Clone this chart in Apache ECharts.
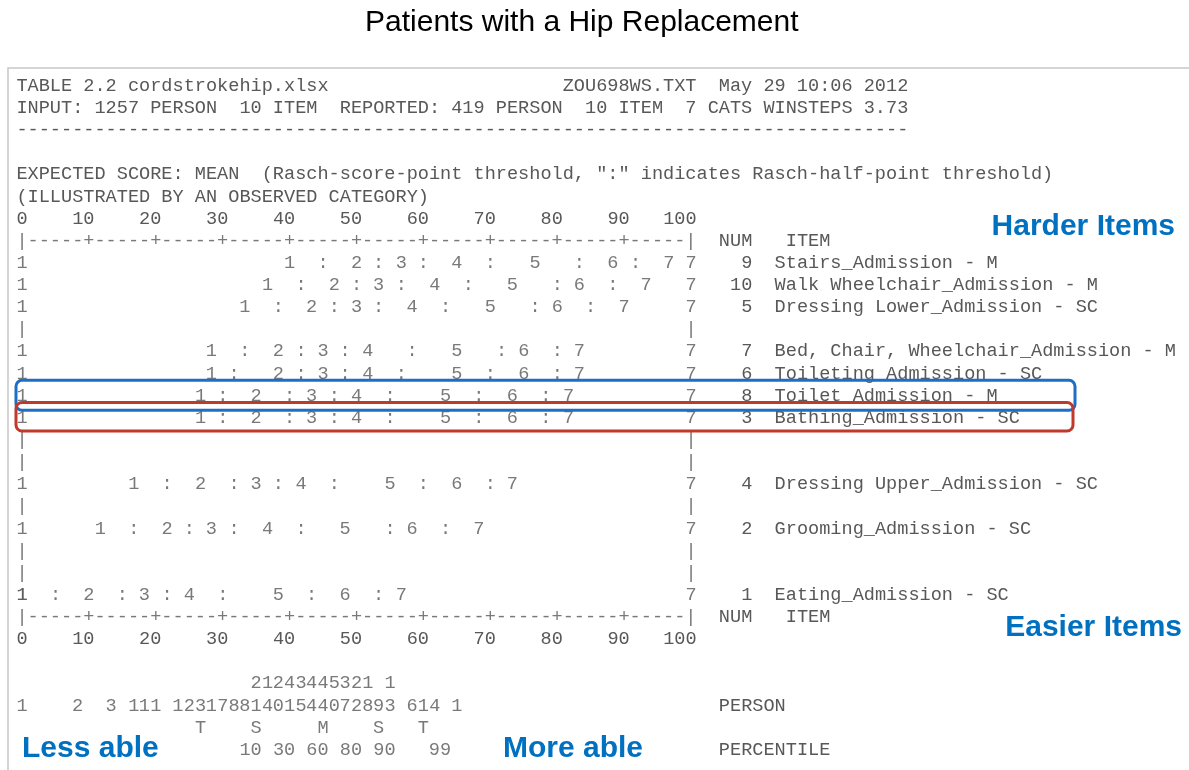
<!DOCTYPE html>
<html>
<head>
<meta charset="utf-8">
<title>Patients with a Hip Replacement</title>
<script src="https://cdn.jsdelivr.net/npm/echarts@6/dist/echarts.min.js"></script>
<style>
  html, body { margin: 0; padding: 0; background: #fff; }
  #chart { width: 1189px; height: 770px; }
</style>
</head>
<body>
<div id="chart"></div>
<script>
// Winsteps Table 2.2 - expected score map (hip replacement patients)

// items, hardest at the top
const itemNum = [9, 10, 5, 7, 6, 8, 3, 4, 2, 1];
const itemName = [
  'Stairs_Admission - M',
  'Walk Wheelchair_Admission - M',
  'Dressing Lower_Admission - SC',
  'Bed, Chair, Wheelchair_Admission - M',
  'Toileting_Admission - SC',
  'Toilet_Admission - M',
  'Bathing_Admission - SC',
  'Dressing Upper_Admission - SC',
  'Grooming_Admission - SC',
  'Eating_Admission - SC'
];
// map line each item is printed on (the other lines only show "|")
const itemLine = [0, 1, 2, 4, 5, 6, 7, 10, 12, 15];
const mapLines = 16;

// expected score 1..7 (Rasch-score-point thresholds), 0-100 scale
const scorePoints = [
  [40, 50, 56.7, 65, 76.7, 88.3, 96.7],
  [36.7, 46.7, 53.3, 61.7, 73.3, 83.3, 93.3],
  [33.3, 43.3, 50, 58.3, 70, 80, 90],
  [28.3, 38.3, 45, 51.7, 65, 75, 83.3],
  [28.3, 38.3, 45, 51.7, 65, 75, 83.3],
  [26.7, 35, 43.3, 50, 63.3, 73.3, 81.7],
  [26.7, 35, 43.3, 50, 63.3, 73.3, 81.7],
  [16.7, 26.7, 35, 41.7, 55, 65, 73.3],
  [11.7, 21.7, 28.3, 36.7, 48.3, 58.3, 68.3],
  [0, 10, 18.3, 25, 38.3, 48.3, 56.7]
];
// ":" Rasch-half-point thresholds
const halfPoints = [
  [45, 53.3, 60, 70, 83.3, 91.7],
  [41.7, 50, 56.7, 66.7, 80, 88.3],
  [38.3, 46.7, 53.3, 63.3, 76.7, 85],
  [33.3, 41.7, 48.3, 58.3, 71.7, 80],
  [31.7, 41.7, 48.3, 56.7, 70, 80],
  [30, 40, 46.7, 55, 68.3, 78.3],
  [30, 40, 46.7, 55, 68.3, 78.3],
  [21.7, 31.7, 38.3, 46.7, 60, 70],
  [16.7, 25, 31.7, 41.7, 55, 63.3],
  [5, 15, 21.7, 30, 43.3, 53.3]
];
const catLow = '1', catHigh = '7';
const blueItem = 8, redItem = 3;

// person distribution under the map
const personPos = [0, 8.3, 13.3, 16.7, 18.3, 20, 23.3, 25, 26.7, 28.3, 30, 31.7, 33.3, 35, 36.7,
  38.3, 40, 41.7, 43.3, 45, 46.7, 48.3, 50, 51.7, 53.3, 55, 58.3, 60, 61.7, 65];
const personCount = [1, 2, 3, 1, 1, 1, 1, 2, 3, 1, 7, 8, 8, 21, 14,
  20, 41, 35, 44, 44, 50, 37, 22, 18, 9, 13, 6, 1, 4, 1];
const statMark = ['T', 'S', 'M', 'S', 'T'];
const statPos = [26.7, 35, 45, 53.3, 60];
const pctLabel = ['10', '30', '60', '80', '90', '99'];
const pctPos = [35, 40, 45, 50, 55, 63.3];

const headerLines = [
  'TABLE 2.2 cordstrokehip.xlsx                     ZOU698WS.TXT  May 29 10:06 2012',
  'INPUT: 1257 PERSON  10 ITEM  REPORTED: 419 PERSON  10 ITEM  7 CATS WINSTEPS 3.73',
  '-'.repeat(80),
  '',
  'EXPECTED SCORE: MEAN  (Rasch-score-point threshold, ":" indicates Rasch-half-point threshold)',
  '(ILLUSTRATED BY AN OBSERVED CATEGORY)'
];

// text grid of the printout
const X0 = 22, X100 = 691;
const CH = (X100 - X0) / 60;
const FS = CH / 0.6;
const LH = 22.13;
const lineY = k => 86 + k * LH;
const MONO = '"Liberation Mono", "Courier New", monospace';
const INK = '#585858';
const BLUE = '#0070c0';

const ruler = Array.from({ length: 61 }, (_, c) => (c % 6 ? '-' : (c % 60 ? '+' : '|'))).join('');

const rightLabels = ['  NUM   ITEM'];
const mapData = [];
for (let l = 0; l < mapLines; l++) {
  const i = itemLine.indexOf(l);
  const r = l + 1;
  rightLabels.push(i < 0 ? '' : String(itemNum[i]).padStart(5) + '  ' + itemName[i]);
  mapData.push({ name: i < 0 ? '|' : catLow, value: [0, r] });
  mapData.push({ name: i < 0 ? '|' : catHigh, value: [100, r] });
  if (i < 0) continue;
  scorePoints[i].forEach((v, k) => mapData.push({ name: String(k + 1), value: [v, r] }));
  halfPoints[i].forEach(v => mapData.push({ name: ':', value: [v, r] }));
}
rightLabels.push('  NUM   ITEM');

const personData = [];
personPos.forEach((v, i) => {
  const n = personCount[i];
  personData.push({ name: String(n % 10), value: [v, 1] });
  if (n >= 10) personData.push({ name: String(Math.floor(n / 10)), value: [v, 0] });
});
statPos.forEach((v, i) => personData.push({ name: statMark[i], value: [v, 2] }));
const pctData = pctPos.map((v, i) => ({ name: pctLabel[i], value: [v, 3] }));

const monoText = { fontFamily: MONO, fontSize: FS, color: INK };
const charLabel = (extra) => Object.assign({
  show: true, position: 'inside', formatter: '{b}', align: 'center', verticalAlign: 'middle'
}, monoText, extra || {});
const hidden = { show: false };

const scaleAxis = (grid, pos, show) => ({
  type: 'value', gridIndex: grid, position: pos, min: 0, max: 100, interval: 10,
  axisLine: hidden, axisTick: hidden, splitLine: hidden,
  axisLabel: show ? Object.assign({
    margin: LH, verticalAlign: 'middle',
    formatter: v => String(v) + ' '.repeat(String(v).length - 1)
  }, monoText) : hidden
});

const chart = echarts.init(document.getElementById('chart'));
chart.setOption({
  animation: false,
  backgroundColor: '#fff',
  title: {
    text: 'Patients with a Hip Replacement',
    left: 365, top: 8, padding: 0,
    textStyle: { fontFamily: '"Liberation Sans", Arial, sans-serif', fontSize: 30, fontWeight: 'normal', color: '#000' }
  },
  grid: [
    { left: X0, right: 1189 - X100, top: lineY(7), bottom: 770 - lineY(24), outerBoundsMode: 'none' },
    { left: X0, right: 1189 - X100, top: lineY(27), bottom: 770 - lineY(30), outerBoundsMode: 'none' }
  ],
  xAxis: [
    scaleAxis(0, 'top', true),
    scaleAxis(0, 'bottom', true),
    scaleAxis(1, 'bottom', false)
  ],
  yAxis: [
    {
      type: 'category', gridIndex: 0, position: 'right', inverse: true, boundaryGap: false,
      data: rightLabels.map((_, i) => 'r' + i),
      axisLine: hidden, axisTick: hidden, splitLine: hidden,
      axisLabel: Object.assign({ interval: 0, margin: CH / 2, align: 'left', formatter: (v, i) => rightLabels[i] }, monoText)
    },
    {
      type: 'category', gridIndex: 1, position: 'right', inverse: true, boundaryGap: false,
      data: ['tens', 'units', 'stats', 'pct'],
      axisLine: hidden, axisTick: hidden, splitLine: hidden,
      axisLabel: Object.assign({ interval: 0, margin: CH / 2, align: 'left',
        formatter: (v, i) => ['', '  PERSON', '', '  PERCENTILE'][i] }, monoText)
    }
  ],
  series: [
    {
      name: 'thresholds', type: 'scatter', xAxisIndex: 0, yAxisIndex: 0, silent: true,
      symbolSize: 1, itemStyle: { color: 'rgba(0,0,0,0)' },
      label: charLabel(), data: mapData
    },
    {
      name: 'ruler', type: 'scatter', xAxisIndex: 0, yAxisIndex: 0, silent: true,
      symbolSize: 1, itemStyle: { color: 'rgba(0,0,0,0)' },
      label: charLabel({ align: 'left', offset: [-CH / 2, 0] }),
      data: [{ name: ruler, value: [0, 0] }, { name: ruler, value: [0, mapLines + 1] }]
    },
    {
      name: 'persons', type: 'scatter', xAxisIndex: 2, yAxisIndex: 1, silent: true,
      symbolSize: 1, itemStyle: { color: 'rgba(0,0,0,0)' },
      label: charLabel(), data: personData
    },
    {
      name: 'percentile', type: 'scatter', xAxisIndex: 2, yAxisIndex: 1, silent: true,
      symbolSize: 1, itemStyle: { color: 'rgba(0,0,0,0)' },
      label: charLabel({ align: 'right', offset: [CH / 2, 0] }), data: pctData
    }
  ]
});

// annotations placed against the rows they mark
const rowY = r => chart.convertToPixel({ gridIndex: 0 }, [0, r])[1];
const boxFor = (num, color, dy, h, x2) => ({
  type: 'rect', z: 100, silent: true,
  shape: { x: 16, y: rowY(itemLine[itemNum.indexOf(num)] + 1) + dy, width: x2 - 16, height: h, r: 6 },
  style: { fill: 'none', stroke: color, lineWidth: 3 }
});
const blueText = (text, x, y, align) => ({
  type: 'text', z: 100, silent: true, x: x, y: y,
  style: { text: text, fill: BLUE, font: 'bold 30px "Liberation Sans", Arial, sans-serif', align: align, verticalAlign: 'middle' }
});

chart.setOption({
  graphic: [
    { type: 'rect', silent: true, shape: { x: 8, y: 68, width: 1200, height: 720 },
      style: { fill: 'none', stroke: '#c8c8c8', lineWidth: 1.5 } },
    ...headerLines.map((t, k) => ({
      type: 'text', silent: true, x: X0 - CH / 2, y: lineY(k),
      style: { text: t, fill: INK, font: FS + 'px ' + MONO, verticalAlign: 'middle' }
    })),
    boxFor(blueItem, '#1c6fc4', -15.5, 30, 1075),
    boxFor(redItem, '#c0392b', -15.5, 28.5, 1073),
    blueText('Harder Items', 1175, 227, 'right'),
    blueText('Easier Items', 1182, 628, 'right'),
    blueText('Less able', 22, 749, 'left'),
    blueText('More able', 503, 749, 'left')
  ]
});
</script>
</body>
</html>
